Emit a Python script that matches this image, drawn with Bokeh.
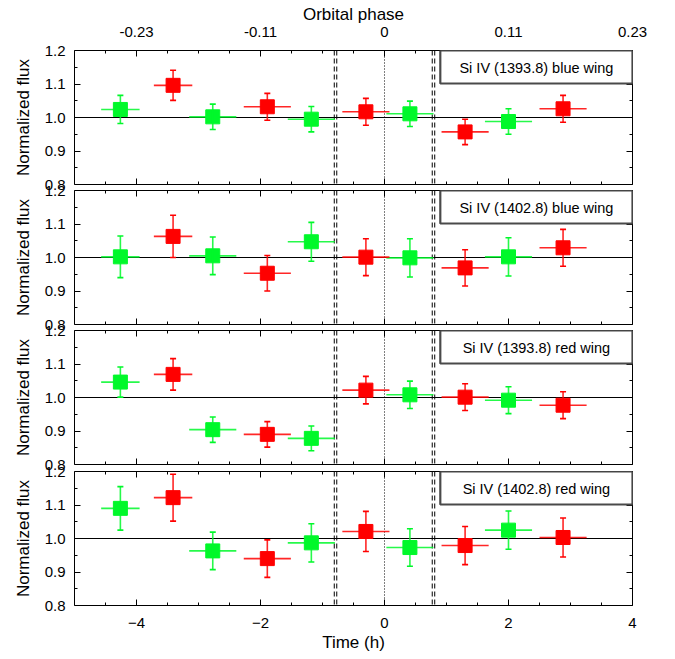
from bokeh.plotting import figure
from bokeh.layouts import column
from bokeh.models import (Range1d, LinearAxis, FixedTicker, Span, Whisker, TeeHead,
                          ColumnDataSource, BoxAnnotation, Label, PrintfTickFormatter,
                          CustomLabelingPolicy)
from bokeh.embed import file_html
from bokeh.resources import INLINE

# ---------------- data ----------------
time_h = [-4.26, -3.41, -2.77, -1.89, -1.18, -0.30, 0.41, 1.30, 2.00, 2.88]
time_halfwidth = [0.31, 0.31, 0.38, 0.38, 0.38, 0.38, 0.38, 0.38, 0.38, 0.38]
point_colors = ["green", "red", "green", "red", "green", "red", "green", "red", "green", "red"]

flux_1393_blue = [1.024, 1.096, 1.002, 1.032, 0.995, 1.017, 1.011, 0.957, 0.988, 1.026]
err_1393_blue = [0.042, 0.045, 0.038, 0.040, 0.038, 0.040, 0.038, 0.038, 0.038, 0.040]
flux_1402_blue = [1.002, 1.063, 1.005, 0.953, 1.047, 1.001, 0.999, 0.969, 1.002, 1.029]
err_1402_blue = [0.062, 0.063, 0.056, 0.053, 0.058, 0.055, 0.057, 0.054, 0.057, 0.055]
flux_1393_red = [1.046, 1.069, 0.904, 0.890, 0.878, 1.022, 1.008, 1.001, 0.992, 0.977]
err_1393_red = [0.045, 0.047, 0.038, 0.038, 0.037, 0.041, 0.041, 0.040, 0.040, 0.040]
flux_1402_red = [1.090, 1.122, 0.963, 0.940, 0.987, 1.021, 0.973, 0.979, 1.025, 1.003]
err_1402_red = [0.065, 0.070, 0.056, 0.056, 0.057, 0.060, 0.056, 0.057, 0.057, 0.058]

panel_labels = ["Si IV (1393.8) blue wing", "Si IV (1402.8) blue wing",
                "Si IV (1393.8) red wing", "Si IV (1402.8) red wing"]

contact_times = [-0.81, -0.77, 0.77, 0.81]
phase_tick_times = [-4, -2, 0, 2, 4]
phase_labels = ["-0.23", "-0.11", "0", "0.11", "0.23"]
time_ticks = [-4, -2, 0, 2, 4]
time_labels = ["\u22124", "\u22122", "0", "2", "4"]
time_minor = [-4.5, -3.5, -3, -2.5, -1.5, -1, -0.5, 0.5, 1, 1.5, 2.5, 3, 3.5]
flux_ticks = [0.8, 0.9, 1.0, 1.1, 1.2]
flux_minor = [0.85, 0.95, 1.05, 1.15]

panels = [(flux_1393_blue, err_1393_blue), (flux_1402_blue, err_1402_blue),
          (flux_1393_red, err_1393_red), (flux_1402_red, err_1402_red)]

COLORS = {"green": "#00F82A", "red": "#FF0000"}
FONT = "Liberation Sans"
FRAME_H = 134

NO_LABELS = CustomLabelingPolicy(code="""
const n = indices.size
for (let i = 0; i < n; i++) indices.unset(i)
return indices
""")


def hidden_axis(ticker):
    return LinearAxis(ticker=ticker, major_label_text_font_size="1px", major_label_standoff=0,
                      major_label_policy=NO_LABELS,
                      major_tick_in=6, major_tick_out=0, minor_tick_in=3, minor_tick_out=0,
                      axis_line_color=None)


def make_panel(k, top_border, bottom_border, margin_top):
    vals, errs = panels[k]
    p = figure(width=675, height=top_border + FRAME_H + bottom_border,
               x_range=Range1d(-5, 4), y_range=Range1d(0.8, 1.2),
               output_backend="svg", toolbar_location=None,
               min_border_left=74, min_border_right=43,
               min_border_top=top_border, min_border_bottom=bottom_border,
               x_axis_location=None, y_axis_location=None)
    p.xgrid.visible = False
    p.ygrid.visible = False
    p.outline_line_color = "black"
    p.outline_line_width = 1
    p.background_fill_color = "white"
    if k == 0:
        p.border_fill_color = "white"
    else:
        p.border_fill_color = None
        p.styles = {"margin-top": f"{margin_top}px"}

    xt = FixedTicker(ticks=time_ticks, minor_ticks=time_minor)
    yt = FixedTicker(ticks=flux_ticks, minor_ticks=flux_minor)

    # left axis
    left = LinearAxis(ticker=yt, formatter=PrintfTickFormatter(format="%.1f"),
                      major_tick_in=6, major_tick_out=0, minor_tick_in=3, minor_tick_out=0,
                      axis_line_color=None, major_label_standoff=9,
                      major_label_text_font=FONT, major_label_text_font_size="15px",
                      major_label_text_color="black",
                      axis_label="Normalized flux", axis_label_text_font=FONT,
                      axis_label_text_font_size="17px", axis_label_text_font_style="normal",
                      axis_label_standoff=9, axis_label_text_color="black")
    p.add_layout(left, "left")
    p.add_layout(hidden_axis(FixedTicker(ticks=flux_ticks, minor_ticks=flux_minor)), "right")

    # top axis
    if k == 0:
        top = LinearAxis(ticker=FixedTicker(ticks=phase_tick_times, minor_ticks=time_minor),
                         major_label_overrides={t: s for t, s in zip(phase_tick_times, phase_labels)},
                         major_tick_in=6, major_tick_out=0, minor_tick_in=3, minor_tick_out=0,
                         axis_line_color=None, major_label_standoff=14,
                         major_label_text_font=FONT, major_label_text_font_size="15px",
                         major_label_text_color="black",
                         axis_label="Orbital phase", axis_label_text_font=FONT,
                         axis_label_text_font_size="17px", axis_label_text_font_style="normal",
                         axis_label_standoff=0, axis_label_text_color="black")
        p.add_layout(top, "above")
    else:
        p.add_layout(hidden_axis(FixedTicker(ticks=time_ticks, minor_ticks=time_minor)), "above")

    # bottom axis
    if k == 3:
        bottom = LinearAxis(ticker=xt,
                            major_label_overrides={t: s for t, s in zip(time_ticks, time_labels)},
                            major_tick_in=6, major_tick_out=0, minor_tick_in=3, minor_tick_out=0,
                            axis_line_color=None, major_label_standoff=12,
                            major_label_text_font=FONT, major_label_text_font_size="15px",
                            major_label_text_color="black",
                            axis_label="Time (h)", axis_label_text_font=FONT,
                            axis_label_text_font_size="17px", axis_label_text_font_style="normal",
                            axis_label_standoff=2, axis_label_text_color="black")
        p.add_layout(bottom, "below")
    else:
        p.add_layout(hidden_axis(xt), "below")

    # reference lines
    p.add_layout(Span(location=1.0, dimension="width", line_color="black", line_width=1.2,
                      level="underlay"))
    for c in contact_times:
        p.add_layout(Span(location=c, dimension="height", line_color="black", line_width=1,
                          line_dash="5 3", level="underlay"))
    p.add_layout(Span(location=0, dimension="height", line_color="black", line_width=1,
                      line_dash="1 2", level="underlay"))

    # data
    for cname in ["green", "red"]:
        idx = [i for i, c in enumerate(point_colors) if c == cname]
        col = COLORS[cname]
        src = ColumnDataSource(dict(
            t=[time_h[i] for i in idx],
            x0=[time_h[i] - time_halfwidth[i] for i in idx],
            x1=[time_h[i] + time_halfwidth[i] for i in idx],
            v=[vals[i] for i in idx],
            lo=[vals[i] - errs[i] for i in idx],
            hi=[vals[i] + errs[i] for i in idx],
        ))
        p.segment(x0="x0", y0="v", x1="x1", y1="v", source=src, line_color=col,
                  line_width=1.6, line_alpha=0.85)
        w = Whisker(source=src, base="t", lower="lo", upper="hi", dimension="height",
                    line_color=col, line_width=1.6, line_alpha=0.85,
                    upper_head=TeeHead(size=6, line_color=col, line_width=1.6),
                    lower_head=TeeHead(size=6, line_color=col, line_width=1.6),
                    level="glyph")
        p.add_layout(w)
        p.scatter(x="t", y="v", source=src, marker="square", size=14,
                  fill_color=col, line_color=col)

    # label box
    p.add_layout(BoxAnnotation(left=0.90, right=4.0, top=1.2, bottom=1.1015,
                               fill_color="white", fill_alpha=1.0,
                               line_color="#4a4a4a", line_alpha=1.0, line_width=2.2))
    p.add_layout(Label(x=2.45, y=1.149, text=panel_labels[k], text_align="center",
                       text_baseline="middle", text_font=FONT, text_font_size="14.5px",
                       text_color="black"))
    return p


figs = [make_panel(0, 50, 14, 0), make_panel(1, 14, 14, -22),
        make_panel(2, 14, 14, -22), make_panel(3, 14, 54, -21)]
layout = column(*figs, spacing=0)

open("out.html", "w").write(file_html(layout, INLINE))
